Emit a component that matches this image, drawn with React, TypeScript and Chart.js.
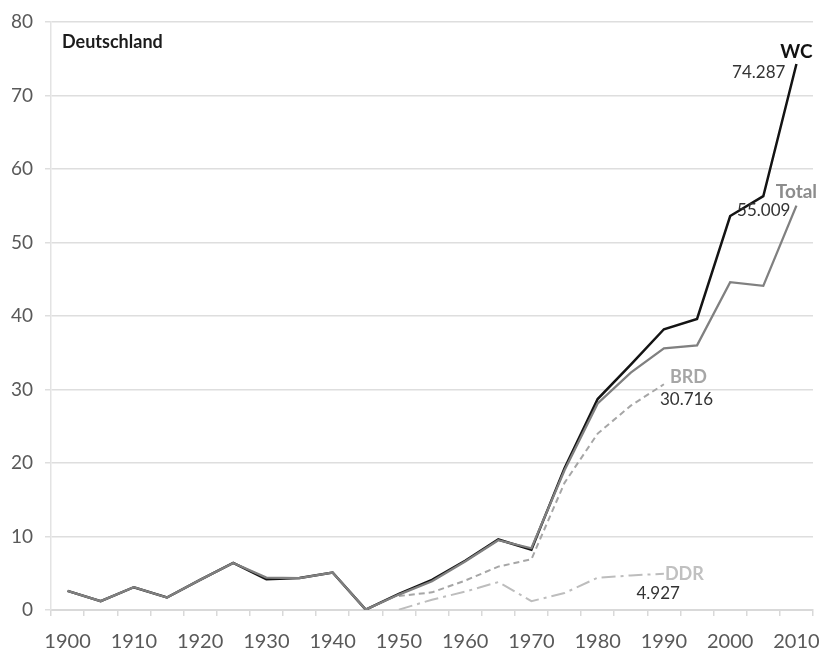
import React, { useEffect, useRef } from "react";
import { Chart, registerables } from "chart.js";

Chart.register(...registerables);

const TITLE = "Deutschland";
const YEARS = [
  "1900", "1905", "1910", "1915", "1920", "1925", "1930", "1935", "1940", "1945",
  "1950", "1955", "1960", "1965", "1970", "1975", "1980", "1985", "1990", "1995",
  "2000", "2005", "2010",
];
const WC = [
  2.6, 1.2, 3.1, 1.7, 4.1, 6.4, 4.2, 4.35, 5.1, 0.05,
  2.2, 4.1, 6.7, 9.6, 8.2, 19.3, 28.7, 33.4, 38.2, 39.6,
  53.6, 56.3, 74.287,
];
const TOTAL = [
  2.6, 1.2, 3.1, 1.7, 4.1, 6.4, 4.4, 4.35, 5.1, 0.05,
  2.1, 3.9, 6.6, 9.5, 8.4, 19.0, 28.1, 32.3, 35.6, 36.0,
  44.6, 44.1, 55.009,
];
const BRD = [
  null, null, null, null, null, null, null, null, null, null,
  1.9, 2.4, 4.0, 5.9, 6.9, 17.3, 24.0, 27.8, 30.716, null,
  null, null, null,
];
const DDR = [
  null, null, null, null, null, null, null, null, null, null,
  0.05, 1.4, 2.5, 3.8, 1.2, 2.3, 4.4, 4.7, 4.927, null,
  null, null, null,
];
const Y_TICKS = [0, 10, 20, 30, 40, 50, 60, 70, 80];

const FONT = "Lato, 'Open Sans', sans-serif";

const annotPlugin = {
  id: "annot",
  afterDatasetsDraw(chart: any) {
    const { ctx, chartArea, scales } = chart;
    const x = scales.x;
    const y = scales.y;
    const i2010 = YEARS.indexOf("2010");
    const i1990 = YEARS.indexOf("1990");
    const x2010 = x.getPixelForValue(i2010);
    const x1990 = x.getPixelForValue(i1990);
    ctx.save();
    ctx.textBaseline = "middle";

    ctx.font = `bold 18px ${FONT}`;
    ctx.fillStyle = "#1c1c1c";
    ctx.textAlign = "left";
    ctx.fillText(TITLE, chartArea.left + 11, 42);

    // WC
    const yWC = y.getPixelForValue(WC[i2010]);
    ctx.font = `bold 19px ${FONT}`;
    ctx.fillStyle = "#111111";
    ctx.textAlign = "center";
    ctx.fillText("WC", x2010, yWC - 12);
    ctx.font = `17px ${FONT}`;
    ctx.fillStyle = "#333333";
    ctx.textAlign = "right";
    ctx.fillText(WC[i2010].toFixed(3), x2010 - 11, yWC + 9);

    // Total
    const yT = y.getPixelForValue(TOTAL[i2010]);
    ctx.font = `bold 19px ${FONT}`;
    ctx.fillStyle = "#8c8c8c";
    ctx.textAlign = "center";
    ctx.fillText("Total", x2010, yT - 14);
    ctx.font = `17px ${FONT}`;
    ctx.fillStyle = "#333333";
    ctx.textAlign = "right";
    ctx.fillText(TOTAL[i2010].toFixed(3), x2010 - 6, yT + 5);

    // BRD
    const yB = y.getPixelForValue(BRD[i1990] as number);
    ctx.font = `bold 18px ${FONT}`;
    ctx.fillStyle = "#a6a6a6";
    ctx.textAlign = "left";
    ctx.fillText("BRD", x1990 + 6, yB - 7);
    ctx.font = `17px ${FONT}`;
    ctx.fillStyle = "#333333";
    ctx.fillText((BRD[i1990] as number).toFixed(3), x1990 - 4, yB + 15);

    // DDR
    const yD = y.getPixelForValue(DDR[i1990] as number);
    ctx.font = `bold 18px ${FONT}`;
    ctx.fillStyle = "#c0c0c0";
    ctx.textAlign = "left";
    ctx.fillText("DDR", x1990 + 1, yD + 0.5);
    ctx.font = `17px ${FONT}`;
    ctx.fillStyle = "#333333";
    ctx.textAlign = "right";
    ctx.fillText((DDR[i1990] as number).toFixed(3), x1990 + 16, yD + 19.5);

    ctx.restore();
  },
};

export default function App() {
  const ref = useRef<HTMLCanvasElement | null>(null);
  useEffect(() => {
    if (!ref.current) return;
    const chart = new Chart(ref.current, {
      type: "line",
      data: {
        labels: YEARS,
        datasets: [
          {
            label: "Total",
            data: TOTAL,
            borderColor: "#808080",
            borderWidth: 2.3,
            pointRadius: 0,
            tension: 0,
            order: 0,
          },
          {
            label: "WC",
            data: WC,
            borderColor: "#141414",
            borderWidth: 2.5,
            pointRadius: 0,
            tension: 0,
            order: 1,
          },
          {
            label: "BRD",
            data: BRD,
            borderColor: "#a6a6a6",
            borderWidth: 2,
            borderDash: [6, 4],
            pointRadius: 0,
            tension: 0,
            order: 2,
          },
          {
            label: "DDR",
            data: DDR,
            borderColor: "#bdbdbd",
            borderWidth: 2,
            borderDash: [14, 5, 3, 5],
            pointRadius: 0,
            tension: 0,
            order: 3,
          },
        ],
      },
      options: {
        responsive: false,
        animation: false,
        devicePixelRatio: 1,
        layout: { padding: { top: 22, right: 6, bottom: 0, left: 0 } },
        plugins: {
          legend: { display: false },
          tooltip: { enabled: false },
        },
        scales: {
          x: {
            type: "category",
            offset: true,
            grid: {
              offset: true,
              drawOnChartArea: false,
              drawTicks: true,
              tickLength: 6,
              color: "#d9d9d9",
              lineWidth: 1.5,
            },
            border: { display: true, color: "#d9d9d9", width: 2 },
            ticks: {
              autoSkip: false,
              maxRotation: 0,
              minRotation: 0,
              padding: 14,
              color: "#595959",
              font: { family: FONT, size: 20 },
              callback: (_v: any, i: number) => (i % 2 === 0 ? YEARS[i] : ""),
            },
            afterFit: (s: any) => {
              s.height = 40;
              s.paddingLeft = 0;
              s.paddingRight = 0;
            },
          },
          y: {
            min: 0,
            max: 80,
            afterBuildTicks: (s: any) => {
              s.ticks = Y_TICKS.map((v) => ({ value: v }));
            },
            grid: {
              color: "#dedede",
              lineWidth: 1.5,
              drawTicks: true,
              tickLength: 6,
            },
            border: { display: true, color: "#e3e3e3", width: 1.5 },
            ticks: {
              padding: 12,
              color: "#595959",
              font: { family: FONT, size: 19 },
            },
            afterFit: (s: any) => {
              s.width = 51;
              s.paddingTop = 0;
              s.paddingBottom = 0;
            },
          },
        },
      },
      plugins: [annotPlugin],
    });
    return () => chart.destroy();
  }, []);
  return (
    <div style={{ position: "absolute", left: 0, top: 0, width: 819, height: 650, background: "#fff" }}>
      <canvas ref={ref} width={819} height={650} />
    </div>
  );
}
